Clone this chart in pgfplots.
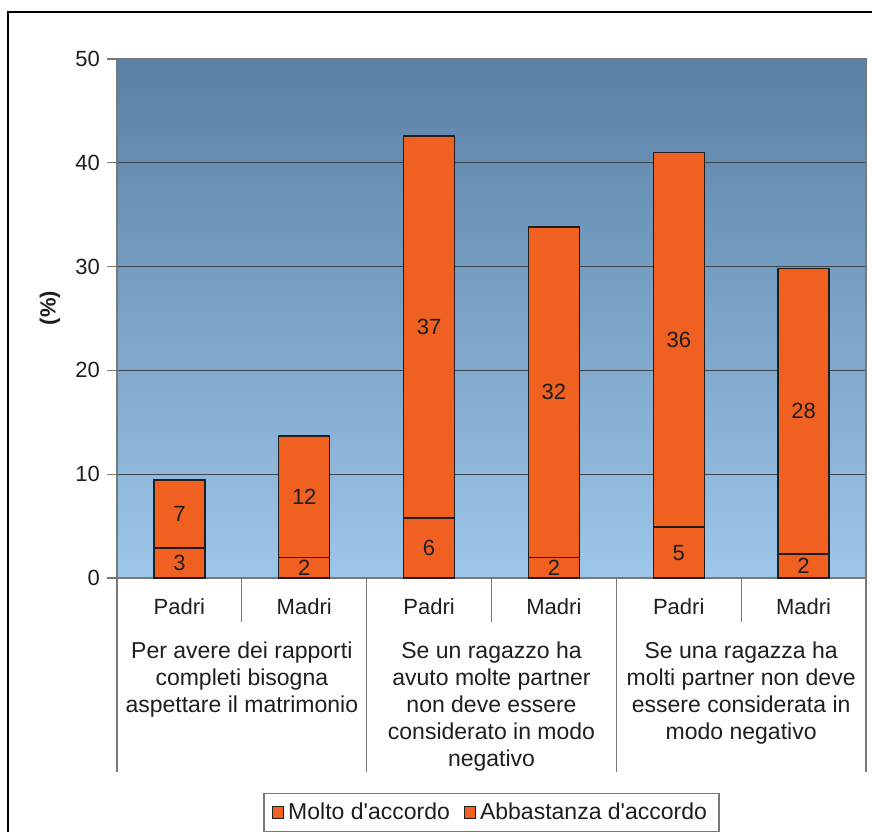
\documentclass[border=0pt]{standalone}
\usepackage{fontspec}
\setmainfont{Liberation Sans}
\usepackage{pgfplots}
\pgfplotsset{compat=1.18}
\definecolor{barorange}{RGB}{240,96,32}
\definecolor{bgtop}{RGB}{90,128,165}
\definecolor{bgbot}{RGB}{157,198,235}
\definecolor{gridc}{RGB}{60,66,75}
\definecolor{txt}{RGB}{30,30,30}
\definecolor{axc}{RGB}{120,120,120}
\begin{document}
\begin{tikzpicture}[x=1pt,y=1pt]
\useasboundingbox (-58.5,-126.5) rectangle (377.5,289);
\draw[black, line width=0.6pt] (-54.5,-140) -- (-54.5,283) -- (390,283);
\begin{axis}[
  at={(0,0)}, anchor=south west,
  scale only axis, width=374.5pt, height=259.5pt,
  xmin=-0.5, xmax=5.5, ymin=0, ymax=50,
  ybar stacked, bar width=25.5pt,
  ytick={0,10,...,50},
  xtick={0,...,5}, xticklabels={Padri,Madri,Padri,Madri,Padri,Madri},
  x tick style={draw=none},
  y tick style={draw=axc, line width=0.6pt},
  ytick pos=left, tick align=outside, major tick length=5pt,
  ymajorgrids, grid style={gridc, line width=0.6pt},
  axis line style={draw=axc, line width=0.6pt},
  axis background/.style={top color=bgtop, bottom color=bgbot},
  /pgf/number format/assume math mode=true,
  yticklabel style={font=\fontsize{11}{12}\selectfont, text=txt},
  xticklabel style={font=\fontsize{11}{12}\selectfont, text=txt, anchor=center, yshift=-9.5pt},
  ylabel={(\%)},
  ylabel style={font=\bfseries\fontsize{11}{12}\selectfont, text=txt, at={(axis description cs:-0.0895,0.52)}, anchor=center},
  clip=false,
  legend columns=2,
  legend style={at={(axis description cs:0.5,0)}, yshift=-107.5pt, anchor=north, draw=axc, line width=0.6pt,
    font=\fontsize{11.5}{13}\selectfont, text=txt, inner xsep=4pt, inner ysep=2.5pt,
    /tikz/every even column/.append style={column sep=5pt}},
  legend image code/.code={\draw[fill=barorange, draw=txt, line width=0.5pt] (0pt,-2.8pt) rectangle (5.6pt,2.8pt);},
]
\addplot[fill=barorange, draw=txt, line width=0.7pt] coordinates {(0,2.9) (1,2.0) (2,5.8) (3,2.0) (4,4.9) (5,2.3)};
\addplot[fill=barorange, draw=txt, line width=0.7pt] coordinates {(0,6.55) (1,11.7) (2,36.8) (3,31.8) (4,36.1) (5,27.5)};
\legend{Molto d\textquotesingle accordo, Abbastanza d\textquotesingle accordo}
\foreach \xx in {0.5,2.5,4.5} {
  \edef\tmp{\noexpand\draw[axc, line width=0.6pt] (axis cs:\xx,0) -- ++(0pt,-22pt);}\tmp
}
\foreach \xx in {-0.5,1.5,3.5,5.5} {
  \edef\tmp{\noexpand\draw[axc, line width=0.6pt] (axis cs:\xx,0) -- ++(0pt,-97pt);}\tmp
}
\node[align=center, font=\fontsize{11.5}{13.5}\selectfont, text=txt, anchor=north, inner sep=0pt, yshift=-31.5pt] at (axis cs:0.5,0) {Per avere dei rapporti\\completi bisogna\\aspettare il matrimonio};
\node[align=center, font=\fontsize{11.5}{13.5}\selectfont, text=txt, anchor=north, inner sep=0pt, yshift=-31.5pt] at (axis cs:2.5,0) {Se un ragazzo ha\\avuto molte partner\\non deve essere\\considerato in modo\\negativo};
\node[align=center, font=\fontsize{11.5}{13.5}\selectfont, text=txt, anchor=north, inner sep=0pt, yshift=-31.5pt] at (axis cs:4.5,0) {Se una ragazza ha\\molti partner non deve\\essere considerata in\\modo negativo};
\end{axis}
\begin{axis}[
  at={(0,0)}, anchor=south west,
  scale only axis, width=374.5pt, height=259.5pt,
  xmin=-0.5, xmax=5.5, ymin=0, ymax=50,
  hide axis, clip=false,
  point meta=explicit symbolic,
  nodes near coords,
  every node near coord/.style={anchor=center, font=\fontsize{11}{12}\selectfont, text=txt},
]
\addplot[draw=none, mark=none, nodes near coords] coordinates {(0,1.45) [3] (1,1.0) [2] (2,2.9) [6] (3,1.0) [2] (4,2.45) [5] (5,1.15) [2]};
\addplot[draw=none, mark=none, nodes near coords] coordinates {(0,6.18) [7] (1,7.85) [12] (2,24.2) [37] (3,17.9) [32] (4,22.95) [36] (5,16.05) [28]};
\end{axis}
\end{tikzpicture}
\end{document}
